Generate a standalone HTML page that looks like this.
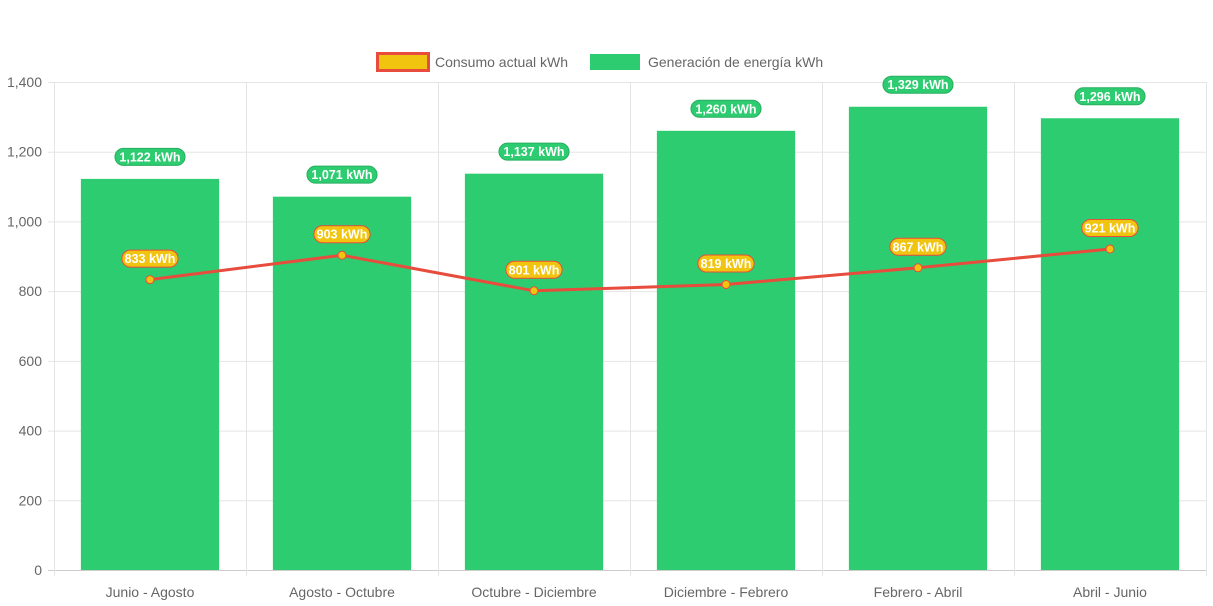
<!DOCTYPE html>
<html><head><meta charset="utf-8"><style>
body{margin:0;background:#fff;font-family:"Liberation Sans",Arial,sans-serif}
svg{display:block}
</style></head><body>
<svg id="c" width="1213" height="606">
<g>
 <g>
  <rect x="377.5" y="53.5" width="51" height="17" fill="#f1c40f" stroke="#e74c3c" stroke-width="3"/>
  <text x="435" y="67" font-size="14" fill="#666">Consumo actual kWh</text>
 </g>
 <g>
  <rect x="590" y="54" width="50" height="16" fill="#2ecc71"/>
  <text x="648" y="67" font-size="14" fill="#666">Generación de energía kWh</text>
 </g>
</g>
<g id="grid"></g>
<g id="bars"></g>
<g id="line"></g>
<g id="labels"></g>
</svg>
<script>
const categories=["Junio - Agosto","Agosto - Octubre","Octubre - Diciembre","Diciembre - Febrero","Febrero - Abril","Abril - Junio"];
const generacion=[1122,1071,1137,1260,1329,1296];
const consumo=[833,903,801,819,867,921];
const yTicks=[0,200,400,600,800,1000,1200,1400];
const NS="http://www.w3.org/2000/svg";
const L=54,R=1206,T=82,B=570,yMax=1400;
const bw=(R-L)/categories.length;
const y=v=>B-(v/yMax)*(B-T);
const xc=i=>L+bw*(i+0.5);
function mk(p,tag,a){const e=document.createElementNS(NS,tag);for(const k in a)e.setAttribute(k,a[k]);p.appendChild(e);return e;}
const fmt=v=>v.toLocaleString('en-US');
const g=document.getElementById('grid');
yTicks.forEach(t=>{
 const ln=mk(g,'line',{x1:L-6,x2:R,y1:y(t)+0.5,y2:y(t)+0.5,stroke:t===0?'#ccc':'#e5e5e5'});
 
 
 const tx=mk(g,'text',{x:L-12,y:y(t)+5,'text-anchor':'end','font-size':14,fill:'#666'});
 tx.textContent=fmt(t);
 
 
});
for(let i=0;i<=categories.length;i++){
 const x=L+bw*i+0.5;
 const ln=mk(g,'line',{x1:x,x2:x,y1:T,y2:B+6,stroke:'#e5e5e5'});
 
 
}
categories.forEach((c,i)=>{
 const tx=mk(g,'text',{x:xc(i),y:597,'text-anchor':'middle','font-size':14,fill:'#666'});
 tx.textContent=c;
 
 
});
const bg=document.getElementById('bars');
const barW=bw*0.72;
generacion.forEach((v,i)=>{
 const r=mk(bg,'rect',{x:xc(i)-barW/2,y:y(v),width:barW,height:B-y(v),fill:'#2ecc71'});
 
 
});
const lg=document.getElementById('line');
const pl=mk(lg,'polyline',{points:consumo.map((v,i)=>xc(i)+','+y(v)).join(' '),fill:'none',stroke:'#e74c3c','stroke-width':3});


consumo.forEach((v,i)=>{
 const c=mk(lg,'circle',{cx:xc(i),cy:y(v),r:4,fill:'#f1c40f',stroke:'#e74c3c','stroke-width':1});
 
 
});
const lb=document.getElementById('labels');
function label(x,cy,text,fill,stroke,name){
 const w=text.length*6.9+8,h=17;
 const gg=mk(lb,'g',{});
 
 
 mk(gg,'rect',{x:x-w/2,y:cy-h/2,width:w,height:h,rx:8.5,fill:fill,stroke:stroke,'stroke-width':1});
 const t=mk(gg,'text',{x:x,y:cy+4.5,'text-anchor':'middle','font-size':12.5,'font-weight':'bold',fill:'#fff'});
 t.textContent=text;
}
generacion.forEach((v,i)=>label(xc(i),y(v)-22,fmt(v)+' kWh','#2ecc71','#27ae60','bar-value-label'));
consumo.forEach((v,i)=>label(xc(i),y(v)-21,fmt(v)+' kWh','#f1c40f','#e74c3c','line-value-label'));
</script>
</body></html>
